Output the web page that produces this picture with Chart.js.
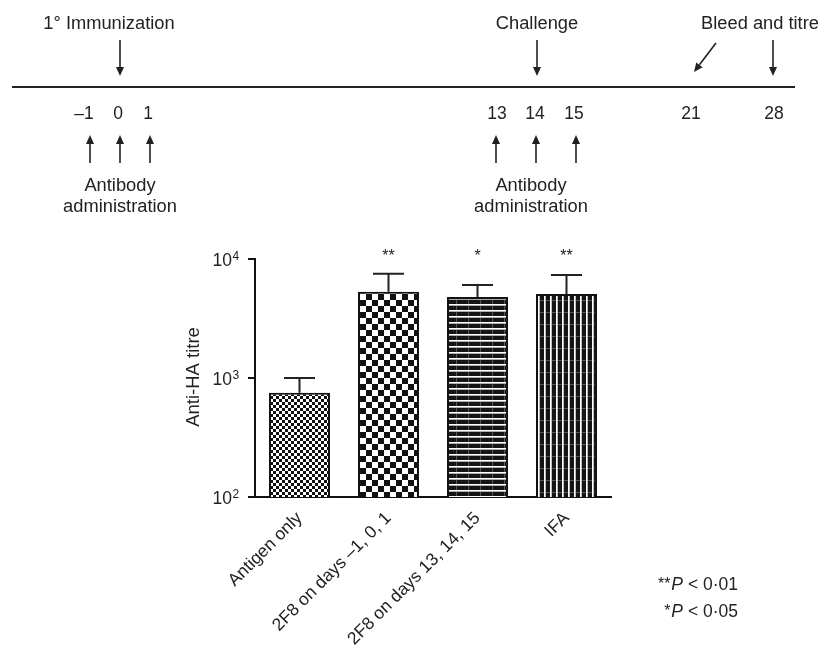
<!DOCTYPE html>
<html lang="en">
<head>
<meta charset="UTF-8">
<title>Anti-HA titre</title>
<script src="https://cdn.jsdelivr.net/npm/chart.js"></script>
<style>
  body { margin: 0; background: #fff; }
  #wrap { width: 828px; height: 647px; }
</style>
</head>
<body>
<div id="wrap"><canvas id="titre-chart" width="828" height="647"></canvas></div>
<script>
// groups and titres
const groups = ['Antigen only', '2F8 on days \u20131, 0, 1', '2F8 on days 13, 14, 15', 'IFA'];
const titre = [750, 5300, 4800, 5080];
const titreUpper = [1000, 7500, 6050, 7350];
const stars = ['', '**', '*', '**'];
const yTicks = [100, 1000, 10000];

// the dosing schedule above the chart
const days = ['\u20131', '0', '1', '13', '14', '15', '21', '28'];
const dayX = [84, 118, 148, 497, 535, 574, 691, 774];
const antibodyDays = [0, 1, 2, 3, 4, 5]; // indexes into days
const arrowX = [90, 120, 150, 496, 536, 576];

const FONT = '"Liberation Sans", Arial, Helvetica, sans-serif';
const INK = '#222';
const BIG = '18.3px ' + FONT;
const MID = '17.5px ' + FONT;

const canvas = document.getElementById('titre-chart');
const ctx = canvas.getContext('2d');

function makePattern(w, h, paint) {
  const c = document.createElement('canvas');
  c.width = w; c.height = h;
  const g = c.getContext('2d');
  paint(g);
  return ctx.createPattern(c, 'repeat');
}

const fills = [
  // fine checker
  makePattern(6, 6, g => {
    g.fillStyle = '#fff'; g.fillRect(0, 0, 6, 6);
    g.fillStyle = '#111'; g.fillRect(0, 0, 3, 3); g.fillRect(3, 3, 3, 3);
  }),
  // coarse checker
  makePattern(12, 12, g => {
    g.fillStyle = '#fff'; g.fillRect(0, 0, 12, 12);
    g.fillStyle = '#111'; g.fillRect(0, 0, 6, 6); g.fillRect(6, 6, 6, 6);
  }),
  // horizontal lines
  makePattern(12, 6, g => {
    g.fillStyle = '#151515'; g.fillRect(0, 0, 12, 6);
    g.fillStyle = '#fff'; g.fillRect(0, 4, 12, 1);
    g.fillStyle = '#aaa'; g.fillRect(0, 5, 12, 1);
    g.fillStyle = '#555'; g.fillRect(0, 0, 1, 4);
  }),
  // vertical lines
  makePattern(6, 12, g => {
    g.fillStyle = '#151515'; g.fillRect(0, 0, 6, 12);
    g.fillStyle = '#fff'; g.fillRect(4, 0, 1, 12);
    g.fillStyle = '#bbb'; g.fillRect(5, 0, 1, 12);
    g.fillStyle = '#555'; g.fillRect(0, 0, 4, 1);
  })
];

function text(c, s, x, y, align, font) {
  c.font = font || BIG;
  c.textAlign = align || 'center';
  c.textBaseline = 'alphabetic';
  c.fillStyle = INK;
  c.fillText(s, x, y);
}

function arrow(c, x1, y1, x2, y2) {
  const a = Math.atan2(y2 - y1, x2 - x1);
  const len = 9, half = 4;
  c.strokeStyle = INK;
  c.fillStyle = INK;
  c.lineWidth = 1.6;
  c.beginPath();
  c.moveTo(x1, y1);
  c.lineTo(x2 - Math.cos(a) * len, y2 - Math.sin(a) * len);
  c.stroke();
  c.beginPath();
  c.moveTo(x2, y2);
  c.lineTo(x2 - Math.cos(a) * len - Math.sin(a) * half, y2 - Math.sin(a) * len + Math.cos(a) * half);
  c.lineTo(x2 - Math.cos(a) * len + Math.sin(a) * half, y2 - Math.sin(a) * len - Math.cos(a) * half);
  c.closePath();
  c.fill();
}

// timeline above the plot
const schedulePlugin = {
  id: 'schedule',
  afterDraw(chart) {
    const c = chart.ctx;
    c.save();
    c.strokeStyle = INK;
    c.lineWidth = 1.8;
    c.beginPath();
    c.moveTo(12, 87);
    c.lineTo(795, 87);
    c.stroke();

    text(c, '1\u00b0 Immunization', 109, 29);
    text(c, 'Challenge', 537, 29);
    text(c, 'Bleed and titre', 760, 29);
    arrow(c, 120, 40, 120, 76);
    arrow(c, 537, 40, 537, 76);
    arrow(c, 773, 40, 773, 76);
    arrow(c, 716, 43, 694, 72);

    days.forEach((d, i) => text(c, d, dayX[i], 119, 'center', MID));
    antibodyDays.forEach(i => arrow(c, arrowX[i], 163, arrowX[i], 135));
    text(c, 'Antibody', 120, 191);
    text(c, 'administration', 120, 212);
    text(c, 'Antibody', 531, 191);
    text(c, 'administration', 531, 212);
    c.restore();
  }
};

// upper error bars, stars, y labels and p-value key
const annotatePlugin = {
  id: 'annotate',
  afterDatasetsDraw(chart) {
    const c = chart.ctx;
    const y = chart.scales.y;
    const bars = chart.getDatasetMeta(0).data;
    c.save();
    c.strokeStyle = INK;
    c.lineWidth = 2;
    bars.forEach((bar, i) => {
      const top = y.getPixelForValue(titreUpper[i]);
      c.beginPath();
      c.moveTo(bar.x, bar.y);
      c.lineTo(bar.x, top);
      c.moveTo(bar.x - 15.5, top);
      c.lineTo(bar.x + 15.5, top);
      c.stroke();
      if (stars[i]) text(c, stars[i], bar.x, chart.chartArea.top + 2, 'center', '16px ' + FONT);
    });

    yTicks.forEach(v => {
      const py = y.getPixelForValue(v);
      text(c, '10', 232, py + 6.5, 'right', MID);
      text(c, String(Math.round(Math.log10(v))), 232.5, py + 0.5, 'left', '12px ' + FONT);
    });

    c.translate(193, 377);
    c.rotate(-Math.PI / 2);
    text(c, 'Anti-HA titre', 0, 6, 'center', '18.5px ' + FONT);
    c.restore();

    // significance key, right aligned
    c.save();
    const keys = [['**', '0\u00b701', 590], ['*', '0\u00b705', 617]];
    keys.forEach(([s, p, by]) => {
      const rest = ' < ' + p;
      c.font = MID;
      const wRest = c.measureText(rest).width;
      c.font = 'italic ' + MID;
      const wP = c.measureText('P').width;
      let x = 738 - wRest;
      text(c, rest, x, by, 'left', MID);
      x -= wP;
      text(c, 'P', x, by, 'left', 'italic ' + MID);
      text(c, s, x - 1, by - 1, 'right', '16px ' + FONT);
    });
    c.restore();
  }
};

new Chart(ctx, {
  type: 'bar',
  data: {
    labels: groups,
    datasets: [{
      data: titre,
      backgroundColor: fills,
      borderColor: '#111',
      borderWidth: 2,
      barPercentage: 0.685,
      categoryPercentage: 1
    }]
  },
  options: {
    responsive: false,
    animation: false,
    layout: { padding: { left: 0, top: 259, right: 217, bottom: 0 } },
    plugins: { legend: { display: false }, tooltip: { enabled: false } },
    scales: {
      x: {
        grid: { display: false, drawTicks: false },
        border: { color: '#111', width: 2 },
        ticks: { color: INK, font: { family: FONT, size: 17.5 }, minRotation: 45, maxRotation: 45, padding: 11, autoSkip: false },
        afterFit: s => { s.height = 150; }
      },
      y: {
        type: 'logarithmic',
        min: 100,
        max: 10000,
        afterBuildTicks: s => { s.ticks = yTicks.map(v => ({ value: v })); },
        grid: { drawOnChartArea: false, color: '#111', lineWidth: 2, tickLength: 7 },
        border: { color: '#111', width: 2 },
        ticks: { display: false },
        afterFit: s => { s.width = 255; }
      }
    }
  },
  plugins: [schedulePlugin, annotatePlugin]
});
</script>
</body>
</html>
